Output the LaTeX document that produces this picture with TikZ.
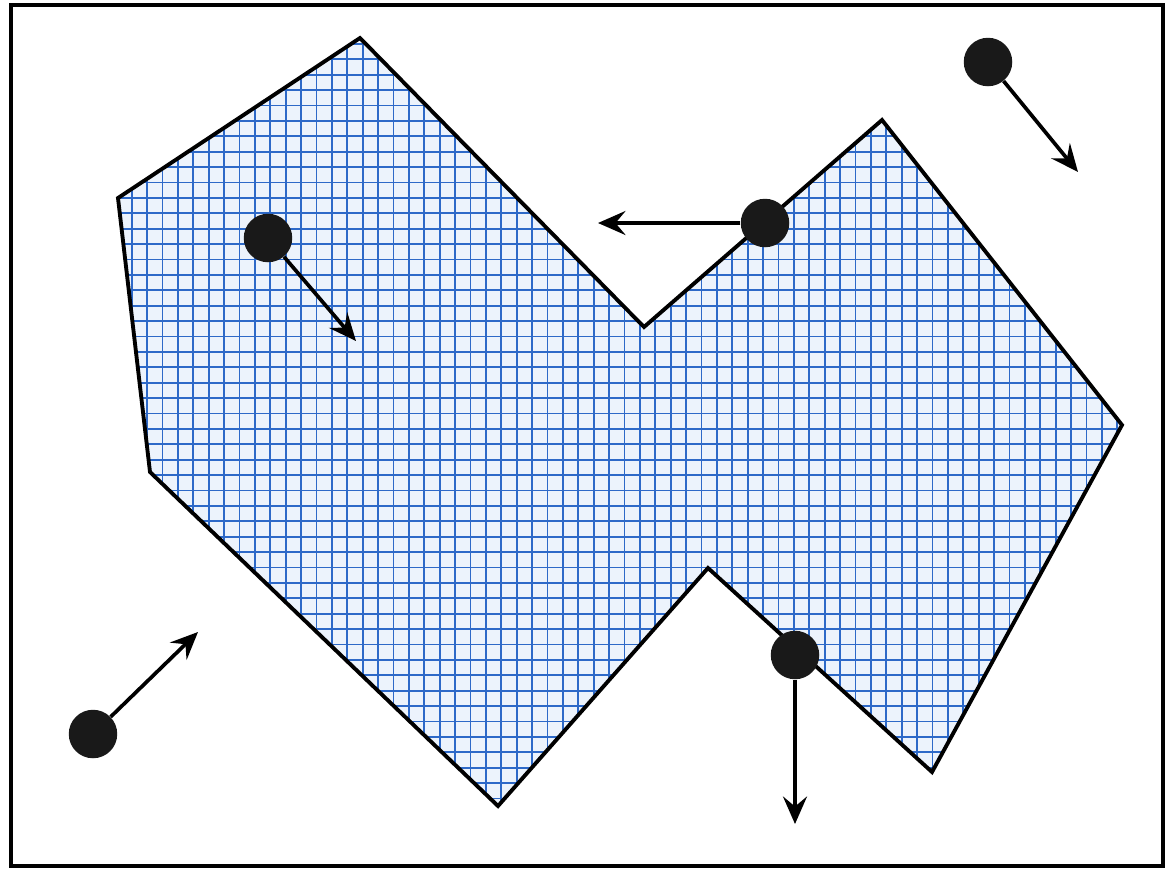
\documentclass[tikz,border=0pt]{standalone}
\usetikzlibrary{arrows.meta}

\definecolor{gridblue}{RGB}{45,105,200}
\definecolor{paleblue}{RGB}{236,243,252}

\begin{document}
\begin{tikzpicture}[x=0.02cm,y=-0.02cm,
  dot/.style={circle,fill=black!90,inner sep=0pt,minimum size=0.97cm},
  arr/.style={-{Stealth[length=0.55cm,width=0.48cm,inset=0.2cm]},line width=2.1pt},
  gridline/.style={gridblue,line width=0.95pt},
  outline/.style={line width=2.2pt,line join=miter}]
\useasboundingbox (0,0) rectangle (1169,870);
\draw[line width=1.8pt] (11,5) rectangle (1163,866);
% region
\coordinate (p1) at (360,38);  \coordinate (p2) at (118,198);
\coordinate (p3) at (150,472); \coordinate (p4) at (498,806);
\coordinate (p5) at (708,568); \coordinate (p6) at (932,772);
\coordinate (p7) at (1122,425);\coordinate (p8) at (882,120);
\coordinate (p9) at (644,327);
\fill[paleblue] (p1)--(p2)--(p3)--(p4)--(p5)--(p6)--(p7)--(p8)--(p9)--cycle;
\begin{scope}
\clip (p1)--(p2)--(p3)--(p4)--(p5)--(p6)--(p7)--(p8)--(p9)--cycle;
\foreach \gx in {8.5,23.9,...,1169} \draw[gridline] (\gx,0)--(\gx,870);
\foreach \gy in {13.1,28.5,...,870} \draw[gridline] (0,\gy)--(1169,\gy);
\end{scope}
\draw[outline] (p1)--(p2)--(p3)--(p4)--(p5)--(p6)--(p7)--(p8)--(p9)--cycle;
% particles
\node[dot] (d1) at (268,238) {};
\node[dot] (d2) at (765,223) {};
\node[dot] (d3) at (988,62) {};
\node[dot] (d4) at (93,734) {};
\node[dot] (d5) at (795,655) {};
\coordinate (t1) at (356,341);
\coordinate (t2) at (598,223);
\coordinate (t3) at (1078,172);
\coordinate (t4) at (198,632);
\coordinate (t5) at (795,824);
\draw[arr] (d1) -- (t1); \draw[arr] (d2) -- (t2); \draw[arr] (d3) -- (t3);
\draw[arr] (d4) -- (t4); \draw[arr] (d5) -- (t5);
\end{tikzpicture}
\end{document}
